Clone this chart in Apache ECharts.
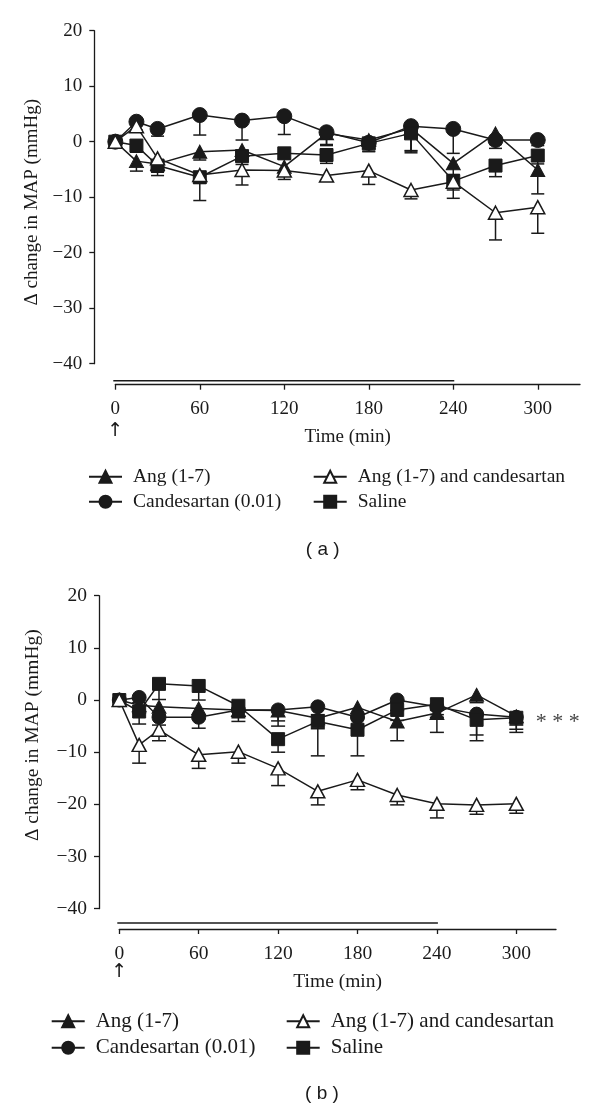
<!DOCTYPE html>
<html><head><meta charset="utf-8">
<script src="https://cdn.jsdelivr.net/npm/echarts@6/dist/echarts.min.js"></script>
<style>html,body{margin:0;padding:0;background:#fff}#c{width:600px;height:1110px}</style>
</head><body><div id="c"></div>
<script>
// ---------- data ----------
const times = [0, 15, 30, 60, 90, 120, 150, 180, 210, 240, 270, 300];
const xTickValues = [0, 60, 120, 180, 240, 300];
const infusion = [0, 240];
const names = ['Ang (1-7)', 'Candesartan (0.01)', 'Ang (1-7) and candesartan', 'Saline'];

// Panel (a)
const aAng      = [0, -3.5, -4.0, -1.8, -1.5, -4.5, 1.5, 0.3, 2.4, -3.9, 1.5, -5.1];
const aAngErr   = [0, 1.8, 1.5, 1.5, 1.2, 1.5, 2.0, 1.5, 4.0, 2.0, 2.0, 4.3];
const aCand     = [0, 3.6, 2.3, 4.8, 3.8, 4.6, 1.7, -0.2, 2.8, 2.3, 0.3, 0.3];
const aCandErr  = [0, 1.5, 1.3, 3.6, 3.5, 3.3, 2.4, 1.5, 4.5, 4.4, 1.5, 1.0];
const aBoth     = [0, 2.8, -3.0, -6.0, -5.1, -5.2, -6.1, -5.2, -8.7, -7.2, -12.8, -11.8];
const aBothErr  = [0, 1.0, 2.0, 1.5, 2.7, 1.6, 1.0, 2.5, 1.6, 1.5, 4.9, 4.7];
const aSal      = [0, -0.7, -4.3, -6.4, -2.6, -2.1, -2.4, -0.3, 1.5, -7.1, -4.3, -2.5];
const aSalErr   = [0, 1.2, 1.8, 4.2, 1.5, 1.0, 1.5, 1.5, 3.5, 3.1, 2.0, 1.5];

// Panel (b)
const bAng      = [0, -1.0, -1.3, -1.6, -1.9, -2.0, -3.5, -1.4, -4.1, -2.5, 1.0, -3.1];
const bAngErr   = [0, 1.5, 1.5, 2.0, 1.5, 2.0, 2.0, 2.0, 3.7, 3.7, 1.5, 2.5];
const bCand     = [0, 0.5, -3.3, -3.3, -1.9, -1.9, -1.3, -3.3, 0, -1.3, -2.7, -3.3];
const bCandErr  = [0, 1.0, 1.5, 2.1, 2.2, 3.1, 1.5, 2.0, 2.0, 2.0, 4.0, 1.5];
const bBoth     = [0, -8.6, -5.7, -10.5, -9.9, -13.1, -17.5, -15.3, -18.2, -19.9, -20.1, -19.9];
const bBothErr  = [0, 3.5, 2.1, 2.6, 2.2, 3.3, 2.6, 1.9, 1.9, 2.7, 1.8, 1.8];
const bSal      = [0, -2.2, 3.1, 2.7, -1.1, -7.5, -4.1, -5.7, -1.9, -0.8, -3.8, -3.4];
const bSalErr   = [0, 2.4, 3.0, 2.7, 2.0, 2.5, 6.6, 5.0, 2.0, 2.0, 4.0, 2.8];

// ---------- styling ----------
const INK = '#1a1a1a';
const SERIF = "'Liberation Serif','DejaVu Serif',serif";
const SANS = "'Liberation Sans','DejaVu Sans',sans-serif";

const panels = [
  { data: [aAng, aCand, aBoth, aSal], errs: [aAngErr, aCandErr, aBothErr, aSalErr],
    grid: { left: 115.3, right: 20, top: 30.7, height: 333 }, offset: 21, barGap: 4,
    font: 19, sym: { tri: [14, 13], circ: 15, sq: 13 }, cap: 6.5,
    yNameGap: 52, yNamePad: [0, 10, 0, 0], arrowDy: 46 },
  { data: [bAng, bCand, bBoth, bSal], errs: [bAngErr, bCandErr, bBothErr, bSalErr],
    grid: { left: 119.3, right: 44, top: 595.7, height: 313 }, offset: 20.3, barGap: 6,
    font: 19.5, sym: { tri: [14, 13], circ: 14, sq: 13 }, cap: 7,
    yNameGap: 56, yNamePad: [0, 0, 0, 34], arrowDy: 43 }
];

const symbolFor = (k, p) => [
  { symbol: 'triangle', symbolSize: p.sym.tri, itemStyle: { color: INK, borderColor: INK, borderWidth: 1 } },
  { symbol: 'circle', symbolSize: p.sym.circ, itemStyle: { color: INK, borderColor: INK, borderWidth: 1 } },
  { symbol: 'triangle', symbolSize: p.sym.tri, itemStyle: { color: '#fff', borderColor: INK, borderWidth: 1.5 } },
  { symbol: 'rect', symbolSize: p.sym.sq, itemStyle: { color: INK, borderColor: INK, borderWidth: 1 } }
][k];

const minus = v => String(v).replace('-', '\u2212');

const grids = [], xAxes = [], yAxes = [], series = [];
panels.forEach((p, pi) => {
  grids.push(Object.assign({ containLabel: false }, p.grid));
  xAxes.push({
    gridIndex: pi, type: 'value', min: 0, max: 330, offset: p.offset,
    name: 'Time (min)', nameLocation: 'middle', nameGap: 43,
    nameTextStyle: { fontFamily: SERIF, fontSize: p.font, color: INK },
    axisLine: { show: true, onZero: false, lineStyle: { color: INK, width: 1.3 } },
    axisTick: { show: true, length: 5, customValues: xTickValues, lineStyle: { color: INK, width: 1.3 } },
    axisLabel: { customValues: xTickValues, margin: 15, fontFamily: SERIF, fontSize: p.font, color: INK },
    splitLine: { show: false }
  });
  yAxes.push({
    gridIndex: pi, type: 'value', min: -40, max: 20, interval: 10, offset: p.offset,
    name: '\u0394 change in MAP (mmHg)', nameLocation: 'middle', nameGap: p.yNameGap, nameRotate: 90,
    nameTextStyle: { fontFamily: SERIF, fontSize: p.font, color: INK, padding: p.yNamePad },
    axisLine: { show: true, onZero: false, lineStyle: { color: INK, width: 1.3 } },
    axisTick: { show: true, length: 5, lineStyle: { color: INK, width: 1.3 } },
    axisLabel: { margin: 12, fontFamily: SERIF, fontSize: p.font, color: INK, formatter: minus },
    splitLine: { show: false }
  });
  p.data.forEach((vals, k) => {
    const errs = p.errs[k];
    series.push({
      type: 'custom', xAxisIndex: pi, yAxisIndex: pi, z: 1, silent: true,
      data: times.map((t, i) => [t, vals[i], errs[i]]),
      encode: { x: 0, y: 1 },
      renderItem: (params, api) => {
        const t = api.value(0), v = api.value(1), e = api.value(2);
        if (!e) return null;
        const a = api.coord([t, v]), b = api.coord([t, v - e]);
        const st = { stroke: INK, lineWidth: 1.5 };
        return { type: 'group', children: [
          { type: 'line', shape: { x1: a[0], y1: a[1], x2: b[0], y2: b[1] }, style: st },
          { type: 'line', shape: { x1: b[0] - p.cap, y1: b[1], x2: b[0] + p.cap, y2: b[1] }, style: st }
        ]};
      }
    });
  });
  p.data.forEach((vals, k) => {
    series.push(Object.assign({
      name: names[k], type: 'line', xAxisIndex: pi, yAxisIndex: pi, z: 3 + (k === 2 ? 1 : 0),
      data: times.map((t, i) => [t, vals[i]]),
      showAllSymbol: true, animation: false,
      lineStyle: { color: INK, width: 1.5 }
    }, symbolFor(k, p)));
  });
});

// legends: two columns x two rows per panel
const legendSpots = [
  { font: 19.5, cols: [88, 312.7], rows: [477.8, 502.8] },
  { font: 21, cols: [50.7, 285.7], rows: [1021.7, 1048.3] }
];
const legendOrder = [[0, 0, 0], [2, 1, 0], [1, 0, 1], [3, 1, 1]]; // [nameIdx, col, row]
const legends = [];
legendSpots.forEach(ls => {
  legendOrder.forEach(([ni, c, r]) => {
    legends.push({
      data: [names[ni]], left: ls.cols[c], top: ls.rows[r] - 11, padding: 0,
      itemWidth: 33, itemHeight: 15, selectedMode: false,
      textStyle: { fontFamily: SERIF, fontSize: ls.font, color: INK, padding: [0, 0, 0, 6] }
    });
  });
});

const chart = echarts.init(document.getElementById('c'), null, { renderer: 'canvas' });
chart.setOption({
  backgroundColor: '#fff', animation: false,
  grid: grids, xAxis: xAxes, yAxis: yAxes, legend: legends, series: series
});

// annotation graphics positioned through the axes
const g = [];
panels.forEach((p, pi) => {
  const s = chart.convertToPixel({ xAxisIndex: pi, yAxisIndex: pi }, [infusion[0], -40]);
  const e = chart.convertToPixel({ xAxisIndex: pi, yAxisIndex: pi }, [infusion[1], -40]);
  const axisY = s[1] + p.offset;
  g.push({ type: 'line', shape: { x1: s[0] - 2, y1: axisY - p.barGap, x2: e[0] + 1, y2: axisY - p.barGap },
           style: { stroke: INK, lineWidth: 1.5 } });
  g.push({ type: 'text', x: s[0], y: axisY + p.arrowDy,
           style: { text: '\u2191', fontFamily: "'DejaVu Sans',sans-serif", fontSize: 19, fill: INK,
                    align: 'center', verticalAlign: 'middle' } });
});
g.push({ type: 'text', x: 322.7, y: 549.3, style: { text: '( a )', fontFamily: SANS, fontSize: 19, fill: INK, align: 'center', verticalAlign: 'middle' } });
g.push({ type: 'text', x: 322, y: 1093.3, style: { text: '( b )', fontFamily: SANS, fontSize: 19, fill: INK, align: 'center', verticalAlign: 'middle' } });
g.push({ type: 'text', x: 557.8, y: 722, style: { text: '* * *', fontFamily: SERIF, fontSize: 22, fill: '#444', align: 'center', verticalAlign: 'middle' } });
chart.setOption({ graphic: g });
</script></body></html>
